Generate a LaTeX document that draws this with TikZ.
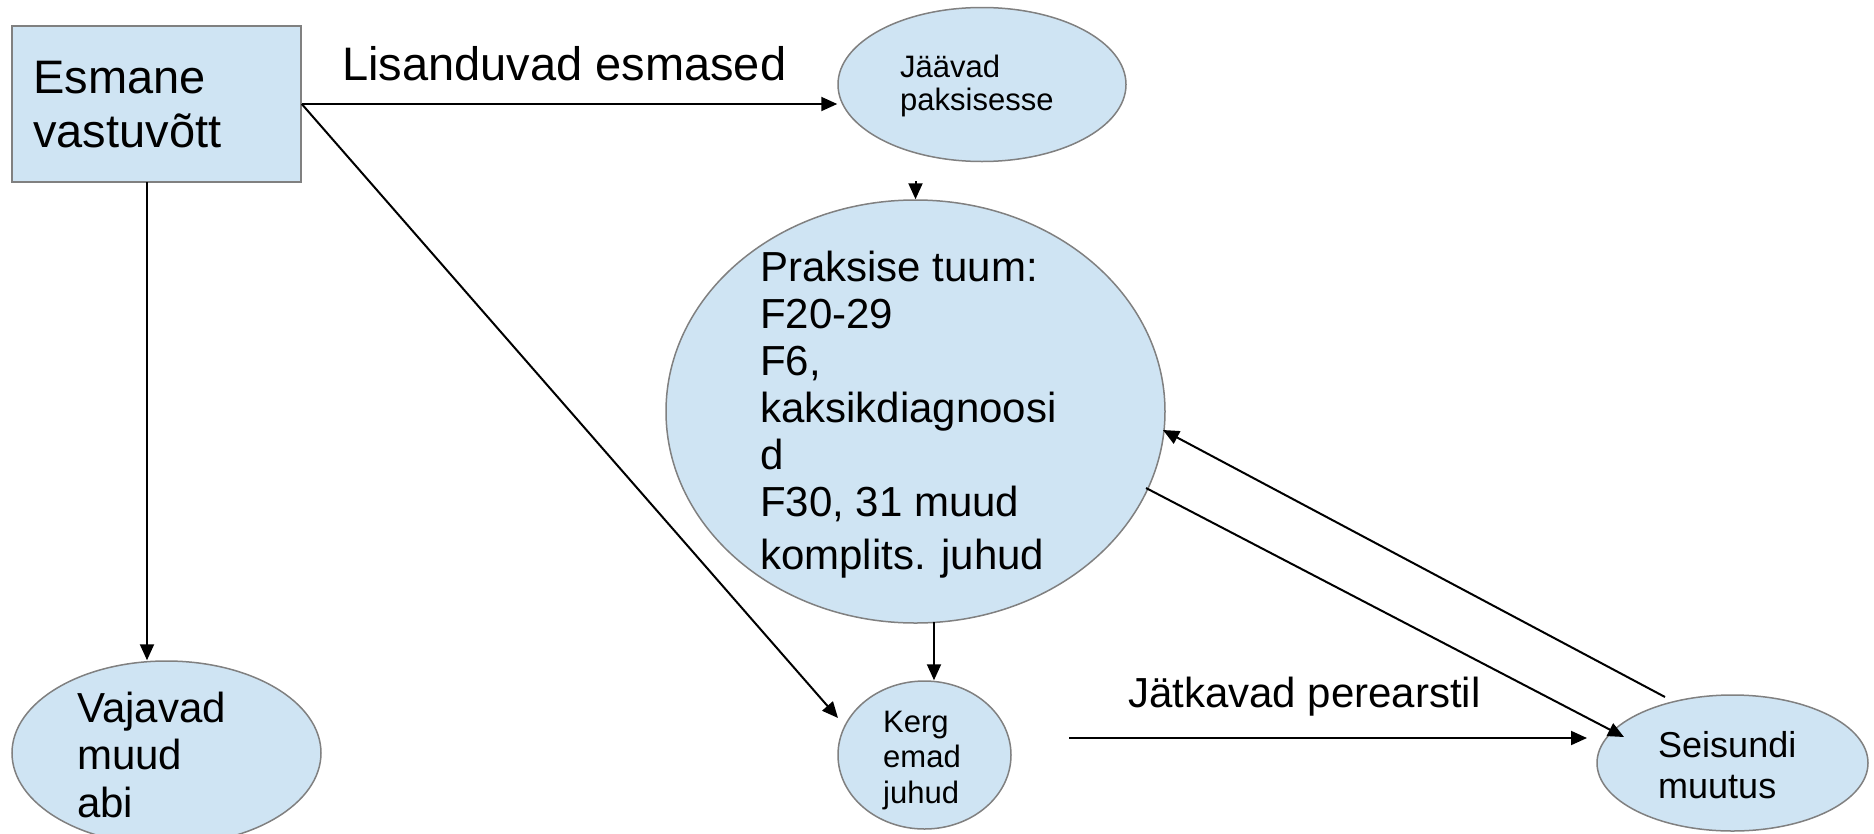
\documentclass[tikz,border=0pt]{standalone}
\usepackage{fontspec}
\setmainfont{Liberation Sans}
\usetikzlibrary{arrows.meta,shapes.geometric}
\definecolor{boxfill}{RGB}{207,228,243}
\definecolor{boxline}{RGB}{128,128,128}
\begin{document}
\begin{tikzpicture}[x=1pt,y=-1pt,
  shapebox/.style={draw=boxline, fill=boxfill, line width=1.5pt, inner sep=0pt},
  ell/.style={ellipse, draw=boxline, fill=boxfill, line width=1.5pt, inner sep=0pt},
  lbl/.style={anchor=base west, inner sep=0pt, align=left},
  conn/.style={line width=2pt, -{Triangle[length=16pt,width=14pt]}}]
\useasboundingbox (0,0) rectangle (1874,833);
% shapes
\node[shapebox, minimum width=289pt, minimum height=156pt] (esm) at (156.5,104) {};
\node[ell, minimum width=288pt, minimum height=154pt] (jaa) at (982,84.5) {};
\node[ell, minimum width=499pt, minimum height=423pt] (prak) at (915.5,411.5) {};
\node[ell, minimum width=309pt, minimum height=184pt] (vaj) at (166.5,753) {};
\node[ell, minimum width=173pt, minimum height=148pt] (kerg) at (924.5,755) {};
\node[ell, minimum width=271pt, minimum height=136pt] (seis) at (1732.5,763) {};
% texts (base anchor = baseline of the last line)
\node[lbl, font=\fontsize{47}{54}\selectfont] (tesm) at (33,147) {Esmane\\vastuvõtt};
\node[lbl, font=\fontsize{31}{32.5}\selectfont] (tjaa) at (900,110) {Jäävad\\paksisesse};
\node[lbl, font=\fontsize{42}{47}\selectfont] (tprak) at (760,569) {Praksise tuum:\\F20-29\\F6,\\kaksikdiagnoosi\\d\\F30, 31 muud\\[6pt]komplits. juhud};
\node[lbl, font=\fontsize{42}{47.5}\selectfont] (tvaj) at (77,817) {Vajavad\\muud\\abi};
\node[lbl, font=\fontsize{31}{35.5}\selectfont] (tkerg) at (883,803) {Kerg\\emad\\juhud};
\node[lbl, font=\fontsize{36}{41}\selectfont] (tseis) at (1658,798) {Seisundi\\muutus};
\node[lbl, font=\fontsize{47}{54}\selectfont] (tlis) at (342,80) {Lisanduvad esmased};
\node[lbl, font=\fontsize{42}{48}\selectfont] (tjat) at (1128,707) {Jätkavad perearstil};
% free ends
\coordinate (vajtop) at (147,182);
\coordinate (kergin) at (838,718);
\coordinate (prakin) at (915.5,181);
\coordinate (prakout) at (934,622);
\coordinate (jatstart) at (1069,738);
\coordinate (jatend) at (1587,738);
\coordinate (pout) at (1146,488);
\coordinate (seisin) at (1624,737);
\coordinate (seisout) at (1665,697);
\coordinate (pin) at (1163,430);
% connectors
\draw[conn] (vajtop) -- (vajtop |- vaj.north);
\draw[conn] (esm.east) -- (esm.east -| jaa.west);
\draw[conn] (esm.east) -- (kergin);
\draw[conn] (prakin) -- (prak.north);
\draw[conn] (prakout) -- (prakout |- kerg.north);
\draw[conn] (jatstart) -- (jatend);
\draw[conn] (pout) -- (seisin);
\draw[conn] (seisout) -- (pin);
\end{tikzpicture}
\end{document}
